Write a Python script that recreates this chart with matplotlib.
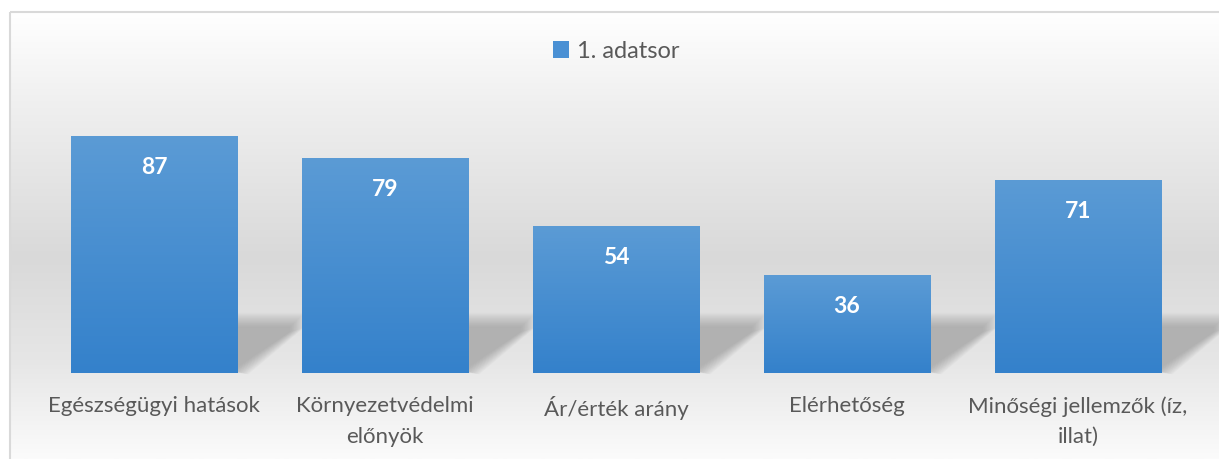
import numpy as np
import matplotlib.pyplot as plt
from matplotlib.colors import LinearSegmentedColormap
from matplotlib.patches import Polygon, Rectangle

categories = [
    "Egészségügyi hatások",
    "Környezetvédelmi\nelőnyök",
    "Ár/érték arány",
    "Elérhetőség",
    "Minőségi jellemzők (íz,\nillat)",
]
values = [87, 79, 54, 36, 71]
series_name = "1. adatsor"

W, H = 1219, 460
text_color = "#595959"
bar_top = "#5b9bd5"
bar_bottom = "#3481cb"

plt.rcParams["font.family"] = ["Lato", "DejaVu Sans"]

fig = plt.figure(figsize=(W / 100, H / 100), dpi=100)

# background frame with a soft vertical gradient
bg = fig.add_axes([0, 0, 1, 1])
bg.set_xlim(0, W)
bg.set_ylim(H, 0)
bg.axis("off")
bg_cmap = LinearSegmentedColormap.from_list(
    "bg",
    [(0.0, "#ffffff"), (0.2, "#f0f0f0"), (0.55, "#d9d9d9"),
     (0.78, "#e6e6e6"), (1.0, "#fbfbfb")],
)
grad = np.linspace(0, 1, 256).reshape(-1, 1)
bg.imshow(grad, cmap=bg_cmap, aspect="auto", extent=(10, W + 5, H, 12),
          interpolation="bilinear")
bg.add_patch(Rectangle((9.5, 12.5), W, H, fill=False, edgecolor="#d9d9d9",
                       linewidth=1.5))

ax = fig.add_axes([38.5 / W, 86 / H, 1155 / W, 272 / H])
ax.patch.set_alpha(0)
for s in ax.spines.values():
    s.set_visible(False)
ax.set_yticks([])
ax.set_xticks(range(len(categories)))
ax.set_xticklabels(categories, fontsize=16, color=text_color,
                   linespacing=1.65, va="top")
ax.tick_params(axis="x", length=0, pad=16)

width = 0.72
bar_cmap = LinearSegmentedColormap.from_list("bar", [bar_bottom, bar_top])
bars = ax.bar(range(len(values)), values, width=width, color="none",
              edgecolor="none", zorder=3)

# one pixel in data units
px_x = 1 / 231
px_y = 100 / 272

for i, (b, v) in enumerate(zip(bars, values)):
    # soft perspective shadow behind the bar foot, built from stacked layers
    x0 = i + width / 2
    for d in np.linspace(-7, 7, 12):
        shadow = Polygon(
            [(x0 - 0.01, 19.5 + d * px_y),
             (x0 + (60 + d) * px_x, 19.5 + d * px_y),
             (x0 + (60 + d) * px_x, 16 + d * px_y * 0.3),
             (x0 + (4 + d) * px_x, 0.3 - d * px_y * 0.3),
             (x0 - 0.01, 0.3)],
            closed=True, facecolor="#808080", edgecolor="none", alpha=0.05,
            zorder=1, clip_on=False,
        )
        ax.add_patch(shadow)
    img = ax.imshow(grad, cmap=bar_cmap, aspect="auto", origin="lower",
                    extent=(i - width / 2, i + width / 2, 0, v), zorder=3)
    img.set_clip_path(b)
    ax.text(i, v - 11.2, str(v), ha="center", va="center", color="white",
            fontsize=16.5, fontweight="bold", zorder=4)

ax.set_xlim(-0.5, len(values) - 0.5)
ax.set_ylim(0, 100)

# legend
ax.legend([Rectangle((0, 0), 1, 1, facecolor="#4a90d4")], [series_name],
          loc="center", bbox_to_anchor=(0.5, (H - 52 - 86) / 272),
          frameon=False, fontsize=17, handlelength=0.7,
          handleheight=0.7, handletextpad=0.3,
          labelcolor=text_color)

fig.savefig("out.png", dpi=100)
